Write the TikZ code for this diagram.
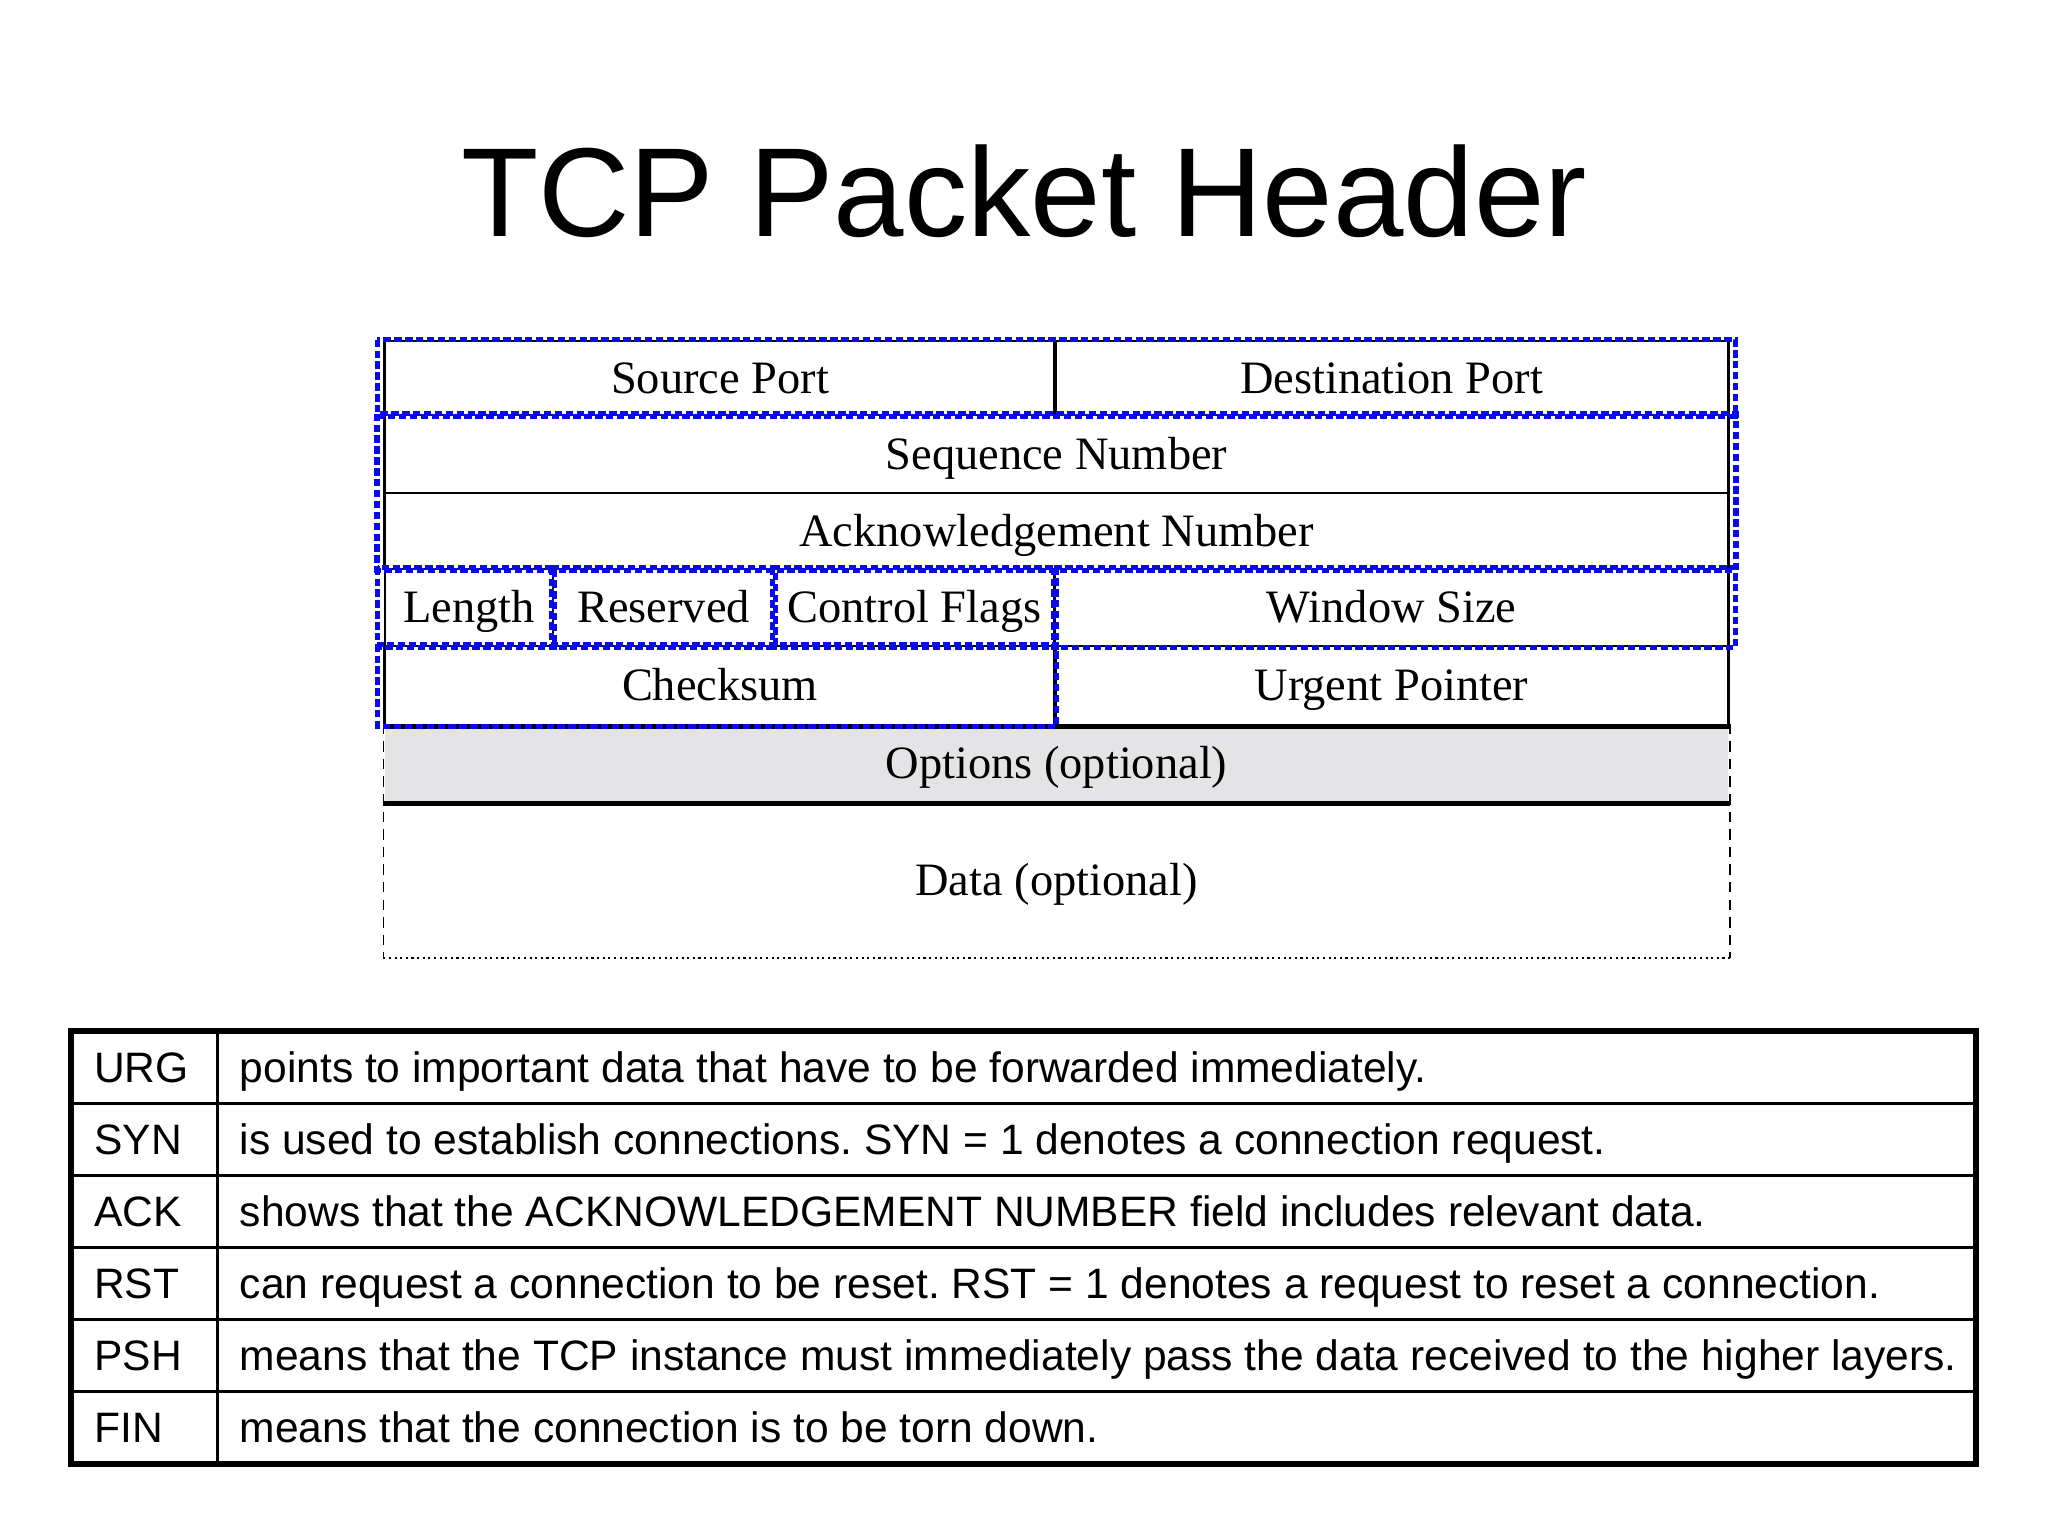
\documentclass[tikz,border=0pt]{standalone}
\usepackage{fontspec}
\setmainfont{Liberation Sans}
\newfontfamily\serifhdr{Liberation Serif}
\usetikzlibrary{calc}
\definecolor{hlblue}{RGB}{10,10,235}
\definecolor{optgray}{RGB}{228,228,230}
\frenchspacing
\begin{document}
\begin{tikzpicture}[x=0.01cm,y=-0.01cm,
  field/.style={draw=black, line width=0.75pt, inner sep=0pt,
    font=\serifhdr\fontsize{13.2}{15}\selectfont, text height=0.30cm, text depth=0pt},
  hl/.style={draw=hlblue, line width=1.6pt, dash pattern=on 2.1pt off 1.0pt},
  cell/.style={draw=black, line width=0.8pt, inner sep=0pt,
    minimum height=0.7183cm},
  lbl/.style={anchor=west, inner sep=0pt, font=\fontsize{12.1}{14}\selectfont,
    text height=0.30cm, text depth=0pt},
]
\useasboundingbox (0,0) rectangle (2048,1536);
\fill[white] (0,0) rectangle (2048,1536);

% title
\node[anchor=base, inner sep=0pt, font=\fontsize{36}{40}\selectfont] (title) at (1024,236) {TCP Packet Header};

% header fields
\node[field, minimum width=6.70cm, minimum height=0.74cm] (src) at (720,378) {Source Port};
\node[field, minimum width=6.73cm, minimum height=0.74cm] (dst) at (1391.5,378) {Destination Port};
\node[field, minimum width=13.43cm, minimum height=0.78cm] (seq) at (1056.5,454) {Sequence Number};
\node[field, minimum width=13.43cm, minimum height=0.76cm] (ack) at (1056.5,531) {Acknowledgement Number};
\node[field, minimum width=1.68cm, minimum height=0.77cm] (len) at (469,607.5) {Length};
\node[field, minimum width=2.21cm, minimum height=0.77cm] (res) at (663.5,607.5) {Reserved};
\node[field, minimum width=2.81cm, minimum height=0.77cm] (flags) at (914.5,607.5) {Control Flags};
\node[field, minimum width=6.73cm, minimum height=0.77cm] (win) at (1391.5,607.5) {Window Size};
\node[field, minimum width=6.70cm, minimum height=0.79cm] (chk) at (720,685.5) {Checksum};
\node[field, minimum width=6.73cm, minimum height=0.79cm] (urg) at (1391.5,685.5) {Urgent Pointer};
\node[field, draw=none, fill=optgray, minimum width=13.43cm, minimum height=0.77cm] (opt) at (1056.5,763.5) {Options (optional)};
\node[field, draw=none, minimum width=13.43cm, minimum height=1.54cm] (data) at (1056.5,880) {Data (optional)};

\draw[line width=1.3pt] (chk.south west) -- (urg.south east);
\draw[line width=1.3pt] (opt.south west) -- (opt.south east);
\draw[line width=0.45pt, densely dashed] (opt.north west) -- (data.south west);
\draw[line width=0.45pt, densely dashed] (opt.north east) -- (data.south east);
\draw[line width=0.6pt, densely dotted] (data.south west) -- (data.south east);

% blue highlight boxes
\draw[hl] ([xshift=-0.06cm]src.north west) rectangle ([xshift=0.06cm]dst.south east);
\draw[hl] ([xshift=-0.06cm]seq.north west) rectangle ([xshift=0.06cm]ack.south east);
\draw[hl] ([xshift=-0.06cm]len.north west) rectangle (len.south east);
\draw[hl] (res.north west) rectangle (res.south east);
\draw[hl] (flags.north west) rectangle (flags.south east);
\draw[hl] (win.north west) rectangle ([xshift=0.06cm]win.south east);
\draw[hl] ([xshift=-0.06cm]chk.north west) rectangle (chk.south east);

% flag table
\foreach \i/\f/\t in {
  1/URG/points to important data that have to be forwarded immediately.,
  2/SYN/is used to establish connections. SYN = 1 denotes a connection request.,
  3/ACK/shows that the ACKNOWLEDGEMENT NUMBER field includes relevant data.,
  4/RST/can request a connection to be reset. RST = 1 denotes a request to reset a connection.,
  5/PSH/means that the TCP instance must immediately pass the data received to the higher layers.,
  6/FIN/means that the connection is to be torn down.}{
  \node[cell, minimum width=1.46cm] (f\i) at (145,{1032+71.83*(\i-0.5)}) {};
  \node[cell, minimum width=17.56cm] (d\i) at (1096,{1032+71.83*(\i-0.5)}) {};
  \node[lbl] (fl\i) at ([xshift=0.23cm]f\i.west) {\f};
  \node[lbl] (tx\i) at ([xshift=0.23cm]d\i.west) {\t};
}
\draw[line width=1.7pt] (f1.north west) rectangle (d6.south east);
\end{tikzpicture}
\end{document}
